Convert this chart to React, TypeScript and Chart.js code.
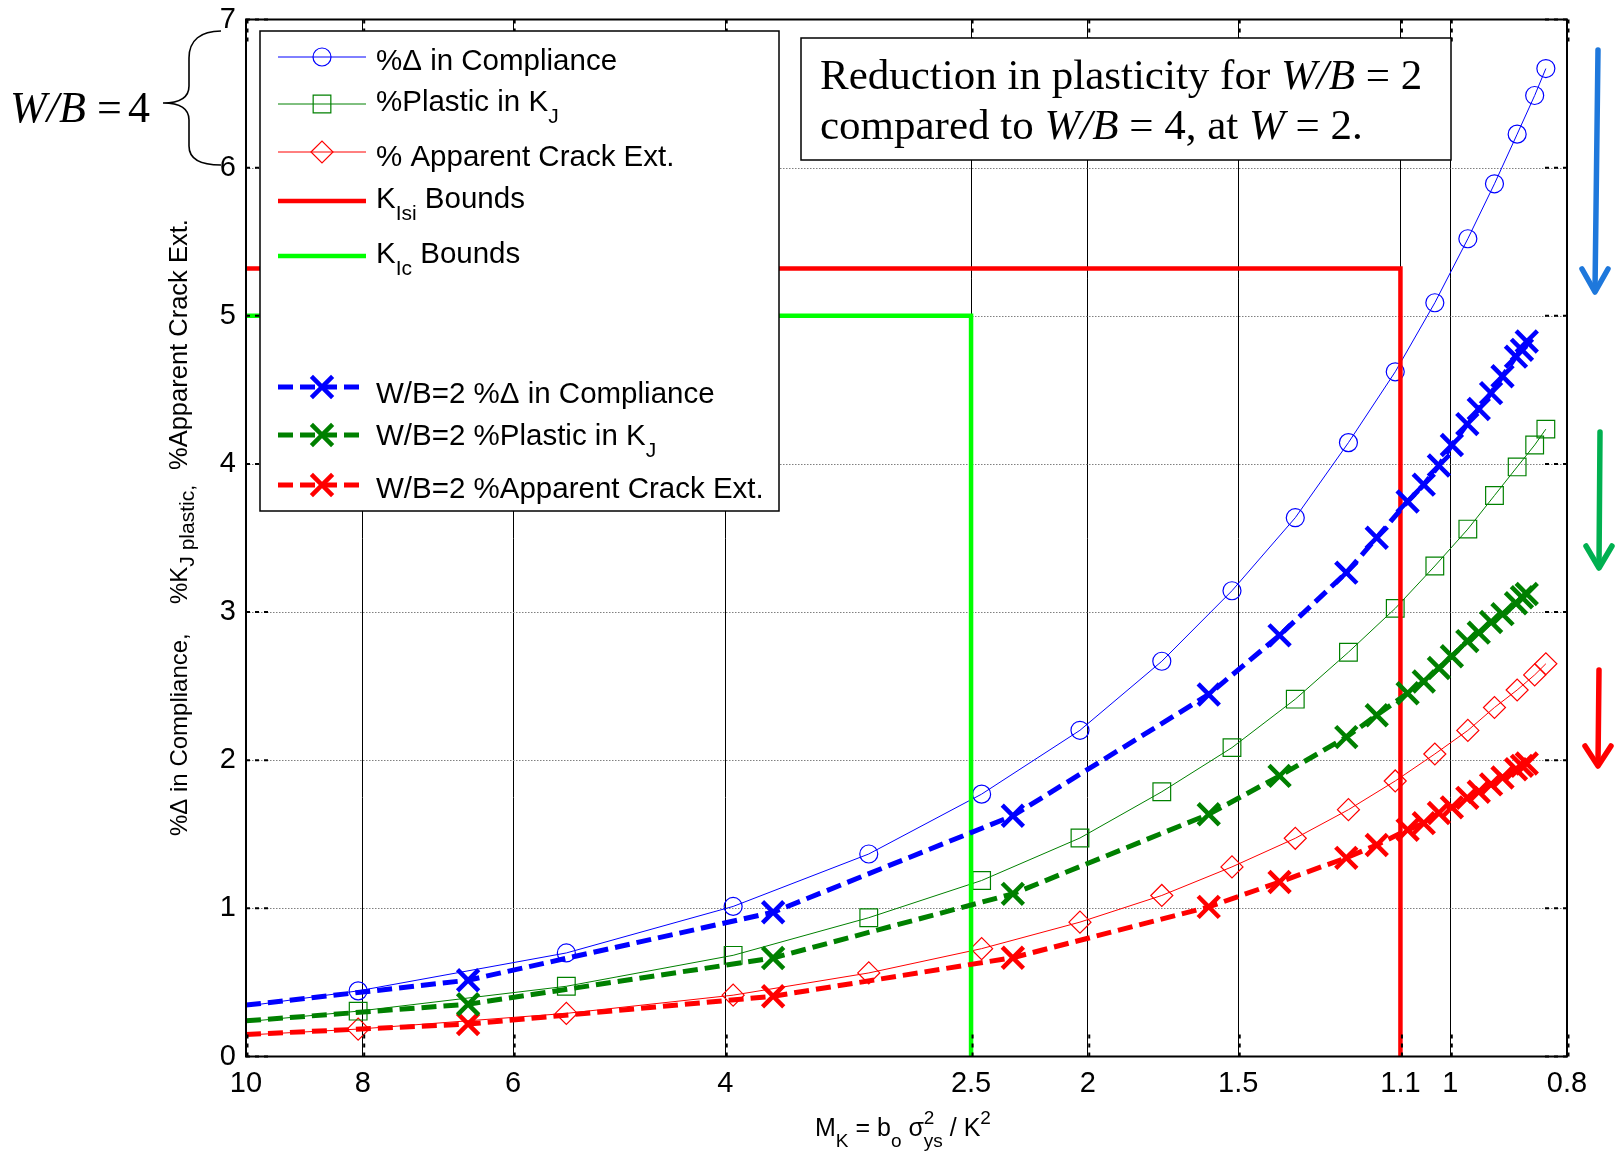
import React, { useEffect, useRef } from 'react';
import { Chart, registerables } from 'chart.js';
import { drawPoint } from 'chart.js/helpers';

Chart.register(...registerables);

// ---------------- data ----------------
const xTickValues = [10, 8, 6, 4, 2.5, 2, 1.5, 1.1, 1, 0.8];
const xTickLabels = ['10', '8', '6', '4', '2.5', '2', '1.5', '1.1', '1', '0.8'];
const yTickValues = [0, 1, 2, 3, 4, 5, 6, 7];

// W/B = 4 (first point at the axis edge carries no marker)
const wb4MK = [10, 8.07, 5.42, 3.94, 3.04, 2.45, 2.03, 1.736, 1.518, 1.345, 1.215, 1.111, 1.03, 0.967, 0.919, 0.88, 0.851, 0.833];
const wb4Compliance = [0.34, 0.443, 0.699, 1.013, 1.367, 1.771, 2.202, 2.668, 3.144, 3.637, 4.144, 4.622, 5.088, 5.52, 5.891, 6.226, 6.487, 6.669];
const wb4PlasticKJ = [0.235, 0.306, 0.474, 0.683, 0.937, 1.188, 1.475, 1.787, 2.085, 2.412, 2.729, 3.025, 3.311, 3.56, 3.787, 3.98, 4.128, 4.235];
const wb4CrackExt = [0.145, 0.185, 0.291, 0.414, 0.564, 0.728, 0.907, 1.087, 1.28, 1.473, 1.666, 1.86, 2.042, 2.201, 2.356, 2.474, 2.576, 2.651];

// W/B = 2
const wb2MK = [10, 6.54, 3.65, 2.308, 1.587, 1.386, 1.22, 1.151, 1.085, 1.052, 1.022, 0.997, 0.968, 0.947, 0.925, 0.905, 0.882, 0.872, 0.864];
const wb2Compliance = [0.347, 0.515, 0.974, 1.625, 2.444, 2.843, 3.266, 3.502, 3.746, 3.86, 3.989, 4.128, 4.269, 4.371, 4.478, 4.592, 4.724, 4.77, 4.826];
const wb2PlasticKJ = [0.241, 0.353, 0.665, 1.098, 1.635, 1.894, 2.156, 2.304, 2.452, 2.531, 2.622, 2.702, 2.804, 2.861, 2.933, 2.986, 3.06, 3.1, 3.122];
const wb2CrackExt = [0.149, 0.219, 0.407, 0.667, 1.01, 1.178, 1.341, 1.428, 1.53, 1.575, 1.644, 1.682, 1.746, 1.787, 1.837, 1.883, 1.939, 1.962, 1.978];

// bounds
const kIsiBoundX = [10, 1.1, 1.1];
const kIsiBoundY = [5.32, 5.32, 0];
const kIcBoundX = [10, 2.5, 2.5];
const kIcBoundY = [5, 5, 0];

// ---------------- styling ----------------
const W = 1618;
const H = 1155;
const SANS = '"Liberation Sans", Arial, Helvetica, sans-serif';
const SERIF = '"Liberation Serif", "Times New Roman", Times, serif';
const BLUE = '#0000ff';
const GREEN = '#008000';
const RED = '#ff0000';
const LIME = '#00ff00';
const CLEAR = 'rgba(0,0,0,0)';

type Part = { t: string; size: number; dy?: number; italic?: boolean; serif?: boolean; noAdvance?: boolean };

function drawParts(ctx: CanvasRenderingContext2D, x: number, y: number, parts: Part[]) {
  let cx = x;
  for (const p of parts) {
    ctx.font = `${p.italic ? 'italic ' : ''}${p.size}px ${p.serif ? SERIF : SANS}`;
    ctx.fillText(p.t, cx, y + (p.dy || 0));
    if (!p.noAdvance) cx += ctx.measureText(p.t).width;
  }
  return cx;
}

const pts = (xs: number[], ys: number[]) => xs.map((x, i) => ({ x, y: ys[i] }));

const noFirst = (r: number) => (c: any) => (c.dataIndex === 0 ? 0 : r);

function thinSeries(label: string, xs: number[], ys: number[], color: string, style: string, radius: number) {
  return {
    label,
    data: pts(xs, ys),
    borderColor: color,
    backgroundColor: CLEAR,
    borderWidth: 1,
    pointStyle: style,
    pointRadius: noFirst(radius),
    pointBorderColor: color,
    pointBackgroundColor: CLEAR,
    pointBorderWidth: 1.2,
    tension: 0,
    fill: false,
    order: 2,
  };
}

function dashedSeries(label: string, xs: number[], ys: number[], color: string) {
  return {
    label,
    data: pts(xs, ys),
    borderColor: color,
    backgroundColor: CLEAR,
    borderWidth: 5,
    borderDash: [15, 7],
    pointStyle: 'crossRot',
    pointRadius: noFirst(15),
    pointBorderColor: color,
    pointBackgroundColor: color,
    pointBorderWidth: 4.5,
    tension: 0,
    fill: false,
    order: 0,
  };
}

function boundSeries(label: string, xs: number[], ys: number[], color: string) {
  return {
    label,
    data: pts(xs, ys),
    borderColor: color,
    backgroundColor: CLEAR,
    borderWidth: 4.5,
    pointRadius: 0,
    tension: 0,
    fill: false,
    order: 1,
  };
}

function arrow(ctx: CanvasRenderingContext2D, x0: number, y0: number, x1: number, y1: number, color: string, hw: number, hh: number) {
  ctx.save();
  ctx.strokeStyle = color;
  ctx.lineWidth = 5.5;
  ctx.lineCap = 'round';
  ctx.lineJoin = 'round';
  ctx.beginPath();
  ctx.moveTo(x0, y0);
  ctx.lineTo(x1, y1 - 2);
  ctx.stroke();
  ctx.beginPath();
  ctx.moveTo(x1 - hw / 2, y1 - hh);
  ctx.lineTo(x1, y1);
  ctx.lineTo(x1 + hw / 2, y1 - hh);
  ctx.stroke();
  ctx.restore();
}

const dottedGrid = {
  id: 'dottedGrid',
  beforeDatasetsDraw(chart: any) {
    const { ctx, chartArea: a, scales } = chart;
    ctx.save();
    ctx.strokeStyle = '#808080';
    ctx.lineWidth = 1;
    ctx.setLineDash([1.5, 1.5]);
    for (const v of yTickValues) {
      if (v === yTickValues[0] || v === yTickValues[yTickValues.length - 1]) continue;
      const py = Math.round(scales.y.getPixelForValue(v)) + 0.5;
      ctx.beginPath();
      ctx.moveTo(a.left, py);
      ctx.lineTo(a.right, py);
      ctx.stroke();
    }
    ctx.restore();
  },
};

const overlay = {
  id: 'overlay',
  afterDatasetsDraw(chart: any) {
    const { ctx, chartArea: a, scales } = chart;
    ctx.save();

    // frame
    ctx.strokeStyle = '#000';
    ctx.lineWidth = 2;
    ctx.setLineDash([]);
    ctx.strokeRect(a.left, a.top, a.right - a.left, a.bottom - a.top);

    // inward dotted tick marks (MATLAB style)
    ctx.lineWidth = 2;
    ctx.setLineDash([4, 5]);
    for (const v of yTickValues) {
      const py = scales.y.getPixelForValue(v);
      ctx.beginPath();
      ctx.moveTo(a.left + 22, py);
      ctx.lineTo(a.left, py);
      ctx.moveTo(a.right - 22, py);
      ctx.lineTo(a.right, py);
      ctx.stroke();
    }
    for (const v of xTickValues) {
      const px = scales.x.getPixelForValue(v);
      ctx.beginPath();
      ctx.moveTo(px + 1.5, a.bottom - 22);
      ctx.lineTo(px + 1.5, a.bottom);
      ctx.moveTo(px + 1.5, a.top + 22);
      ctx.lineTo(px + 1.5, a.top);
      ctx.stroke();
    }
    ctx.setLineDash([]);

    // ---- legend ----
    ctx.fillStyle = '#fff';
    ctx.fillRect(260, 31, 519, 480);
    ctx.strokeStyle = '#000';
    ctx.lineWidth = 1.5;
    ctx.strokeRect(260, 31, 519, 480);

    const lx0 = 278, lx1 = 366, mx = 322, tx = 376;
    const FS = 29.5;
    const SS = 21;
    type Entry = { ly: number; by: number; color: string; lw: number; dash: number[]; marker?: string; mr?: number; mw?: number; parts: Part[] };
    const entries: Entry[] = [
      { ly: 57, by: 70, color: BLUE, lw: 1, dash: [], marker: 'circle', mr: 9, mw: 1.2, parts: [{ t: '%Δ in Compliance', size: FS }] },
      { ly: 104, by: 111, color: GREEN, lw: 1, dash: [], marker: 'rect', mr: 12.5, mw: 1.2, parts: [{ t: '%Plastic in K', size: FS }, { t: 'J', size: SS, dy: 12 }] },
      { ly: 152, by: 166, color: RED, lw: 1, dash: [], marker: 'rectRot', mr: 11, mw: 1.2, parts: [{ t: '% Apparent Crack Ext.', size: FS }] },
      { ly: 201, by: 208, color: RED, lw: 4.5, dash: [], parts: [{ t: 'K', size: FS }, { t: 'Isi', size: SS, dy: 12 }, { t: ' Bounds', size: FS }] },
      { ly: 256, by: 263, color: LIME, lw: 4.5, dash: [], parts: [{ t: 'K', size: FS }, { t: 'Ic', size: SS, dy: 12 }, { t: ' Bounds', size: FS }] },
      { ly: 387, by: 403, color: BLUE, lw: 5, dash: [15, 7], marker: 'crossRot', mr: 15, mw: 4.5, parts: [{ t: 'W/B=2 %Δ in Compliance', size: FS }] },
      { ly: 435, by: 445, color: GREEN, lw: 5, dash: [15, 7], marker: 'crossRot', mr: 15, mw: 4.5, parts: [{ t: 'W/B=2 %Plastic in K', size: FS }, { t: 'J', size: SS, dy: 12 }] },
      { ly: 485, by: 498, color: RED, lw: 5, dash: [15, 7], marker: 'crossRot', mr: 15, mw: 4.5, parts: [{ t: 'W/B=2 %Apparent Crack Ext.', size: FS }] },
    ];
    for (const e of entries) {
      ctx.save();
      ctx.strokeStyle = e.color;
      ctx.lineWidth = e.lw;
      ctx.setLineDash(e.dash);
      ctx.beginPath();
      ctx.moveTo(lx0, e.ly);
      ctx.lineTo(lx1, e.ly);
      ctx.stroke();
      ctx.setLineDash([]);
      if (e.marker) {
        ctx.strokeStyle = e.color;
        ctx.fillStyle = CLEAR;
        ctx.lineWidth = e.mw || 1;
        drawPoint(ctx, { pointStyle: e.marker as any, radius: e.mr || 8, rotation: 0, borderWidth: e.mw || 1 } as any, mx, e.ly);
      }
      ctx.restore();
      ctx.fillStyle = '#000';
      ctx.textBaseline = 'alphabetic';
      ctx.textAlign = 'left';
      drawParts(ctx, tx, e.by, e.parts);
    }

    // ---- annotation box ----
    ctx.fillStyle = '#fff';
    ctx.fillRect(801, 38, 650, 122);
    ctx.strokeStyle = '#000';
    ctx.lineWidth = 1.5;
    ctx.strokeRect(801, 38, 650, 122);
    ctx.fillStyle = '#000';
    drawParts(ctx, 820, 89, [
      { t: 'Reduction in plasticity for ', size: 43, serif: true },
      { t: 'W/B', size: 43, serif: true, italic: true },
      { t: ' = 2', size: 43, serif: true },
    ]);
    drawParts(ctx, 820, 139, [
      { t: 'compared to ', size: 43, serif: true },
      { t: 'W/B', size: 43, serif: true, italic: true },
      { t: ' = 4, at ', size: 43, serif: true },
      { t: 'W', size: 43, serif: true, italic: true },
      { t: ' = 2.', size: 43, serif: true },
    ]);

    ctx.restore();
  },
  afterDraw(chart: any) {
    const { ctx } = chart;
    ctx.save();
    ctx.fillStyle = '#000';
    ctx.textAlign = 'left';
    ctx.textBaseline = 'alphabetic';

    // W/B = 4 with brace
    ctx.font = `italic 44px ${SERIF}`;
    ctx.fillText('W/B', 10, 122);
    ctx.font = `44px ${SERIF}`;
    ctx.fillText('=', 97, 122);
    ctx.fillText('4', 128, 122);

    ctx.strokeStyle = '#000';
    ctx.lineWidth = 1.6;
    ctx.beginPath();
    ctx.moveTo(221, 31);
    ctx.bezierCurveTo(201, 31, 189, 40, 189, 58);
    ctx.lineTo(189, 86);
    ctx.bezierCurveTo(189, 97, 180, 103, 163, 103);
    ctx.bezierCurveTo(180, 103, 189, 109, 189, 120);
    ctx.lineTo(189, 146);
    ctx.bezierCurveTo(189, 159, 201, 165, 221, 165);
    ctx.stroke();

    // y axis title (rotated)
    ctx.save();
    ctx.translate(187, 836);
    ctx.rotate(-Math.PI / 2);
    drawParts(ctx, 0, 0, [{ t: '%Δ in Compliance,', size: 24 }]);
    drawParts(ctx, 836 - 604, 0, [{ t: '%K', size: 24 }, { t: 'J plastic,', size: 21, dy: 7 }]);
    drawParts(ctx, 836 - 470, 0, [{ t: '%Apparent Crack Ext.', size: 25.5 }]);
    ctx.restore();

    // x axis title
    drawParts(ctx, 815, 1136, [
      { t: 'M', size: 25 },
      { t: 'K', size: 19, dy: 11 },
      { t: ' = b', size: 25 },
      { t: 'o', size: 19, dy: 11 },
      { t: ' σ', size: 25 },
      { t: '2', size: 19, dy: -12, noAdvance: true },
      { t: 'ys', size: 19, dy: 11 },
      { t: ' / K', size: 25 },
      { t: '2', size: 19, dy: -12 },
    ]);

    // arrows on the right
    arrow(ctx, 1598, 50, 1595, 292, '#1e78dc', 26, 23);
    arrow(ctx, 1600, 432, 1599, 568, '#00b050', 26, 22);
    arrow(ctx, 1599, 670, 1598, 766, '#ff0000', 26, 20);

    ctx.restore();
  },
};

export default function App() {
  const ref = useRef<HTMLCanvasElement>(null);

  useEffect(() => {
    document.body.style.margin = '0';
    const canvas = ref.current;
    if (!canvas) return;
    const chart = new Chart(canvas, {
      type: 'line',
      data: {
        datasets: [
          thinSeries('%Δ in Compliance', wb4MK, wb4Compliance, BLUE, 'circle', 9),
          thinSeries('%Plastic in KJ', wb4MK, wb4PlasticKJ, GREEN, 'rect', 12.5),
          thinSeries('% Apparent Crack Ext.', wb4MK, wb4CrackExt, RED, 'rectRot', 11),
          boundSeries('KIsi Bounds', kIsiBoundX, kIsiBoundY, RED),
          boundSeries('KIc Bounds', kIcBoundX, kIcBoundY, LIME),
          dashedSeries('W/B=2 %Δ in Compliance', wb2MK, wb2Compliance, BLUE),
          dashedSeries('W/B=2 %Plastic in KJ', wb2MK, wb2PlasticKJ, GREEN),
          dashedSeries('W/B=2 %Apparent Crack Ext.', wb2MK, wb2CrackExt, RED),
        ] as any,
      },
      options: {
        responsive: false,
        animation: false,
        devicePixelRatio: 1,
        events: [],
        layout: { padding: { top: 16, right: 51, bottom: 0, left: 0 } },
        plugins: {
          legend: { display: false },
          tooltip: { enabled: false },
          title: { display: false },
        },
        scales: {
          x: {
            type: 'logarithmic',
            position: 'bottom',
            reverse: true,
            min: 0.8,
            max: 10,
            afterBuildTicks: (s: any) => {
              s.ticks = xTickValues.map((v) => ({ value: v }));
            },
            afterFit: (s: any) => {
              s.height = 98.5;
              s.paddingLeft = 0;
              s.paddingRight = 0;
            },
            ticks: {
              autoSkip: false,
              maxRotation: 0,
              minRotation: 0,
              padding: 10,
              color: '#000',
              font: { family: SANS, size: 29 },
              callback: (_v: any, i: number) => xTickLabels[i],
            },
            grid: { color: '#000', lineWidth: 1, drawTicks: false },
            border: { display: false },
          },
          y: {
            type: 'linear',
            min: 0,
            max: 7,
            afterBuildTicks: (s: any) => {
              s.ticks = yTickValues.map((v) => ({ value: v }));
            },
            afterFit: (s: any) => {
              s.width = 246;
              s.paddingTop = 0;
              s.paddingBottom = 0;
            },
            ticks: {
              padding: 10,
              color: '#000',
              font: { family: SANS, size: 29 },
              callback: (v: any) => String(v),
            },
            grid: { display: false, drawTicks: false },
            border: { display: false },
          },
        },
      } as any,
      plugins: [dottedGrid, overlay],
    });
    return () => chart.destroy();
  }, []);

  return (
    <div style={{ position: 'absolute', left: 0, top: 0, width: W, height: H, background: '#fff' }}>
      <canvas ref={ref} width={W} height={H} style={{ width: W, height: H, display: 'block' }} />
    </div>
  );
}
